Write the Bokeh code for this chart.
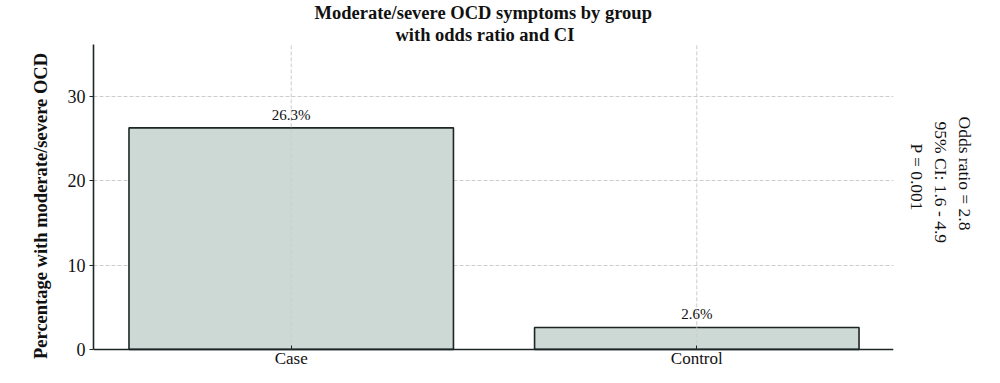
from bokeh.plotting import figure
from bokeh.models import ColumnDataSource, FixedTicker, Range1d, Title
from bokeh.embed import file_html
from bokeh.resources import INLINE

groups = ["Case", "Control"]
percentages = [26.3, 2.6]
bar_labels = ["26.3%", "2.6%"]
annotation_lines = ["Odds ratio = 2.8", "95% CI: 1.6 - 4.9", "P = 0.001"]
y_ticks = [0, 10, 20, 30]

FONT = "Liberation Serif"
INK = "#111111"
AXIS = "#1c2626"
GRID = "#cccccc"
Y_TOP = 36.2
x_pos = list(range(len(groups)))

src = ColumnDataSource(dict(x=x_pos, top=percentages, label=bar_labels))

p = figure(width=984, height=367, output_backend="svg", toolbar_location=None,
           x_range=Range1d(-0.4875, 1.485), y_range=Range1d(-2.157, Y_TOP),
           min_border_left=93, min_border_right=10, min_border_top=0, min_border_bottom=0)

p.title.text = "Moderate/severe OCD symptoms by group"
p.title.align = "left"
p.title.offset = 221
p.title.text_font = FONT
p.title.text_font_size = "18.5px"
p.title.text_font_style = "bold"
p.title.text_color = INK
p.title.standoff = 0
p.add_layout(Title(text="with odds ratio and CI", align="left", offset=302,
                   text_font=FONT, text_font_size="18.5px", text_font_style="bold",
                   text_color=INK, standoff=0), "above")

# right-hand annotation: spacer first, then lines from the frame outwards, then outer spacer
p.add_layout(Title(text=" ", text_font=FONT, text_font_size="9px", standoff=0), "right")
for line, off in zip(reversed(annotation_lines), [99, 77, 72]):
    p.add_layout(Title(text=line, align="left", offset=off, text_font=FONT,
                       text_font_size="17.5px", text_font_style="normal",
                       text_color=INK, standoff=2), "right")
p.add_layout(Title(text=" ", text_font=FONT, text_font_size="5px", standoff=0), "right")

p.vbar(x="x", top="top", width=0.8, source=src, fill_color="#cdd9d5",
       line_color=AXIS, line_width=1.6)

# vertical grid lines at the categories, from the baseline up
p.segment(x0=x_pos, y0=[0] * len(x_pos), x1=x_pos, y1=[Y_TOP] * len(x_pos),
          line_color=GRID, line_dash="4 2", line_width=1)

p.text(x="x", y="top", text="label", source=src, text_align="center",
       text_baseline="bottom", y_offset=-5, text_font_size="15px",
       text_color=INK, text_font={"value": FONT})

p.xaxis.ticker = FixedTicker(ticks=x_pos)
p.xaxis.major_label_overrides = {i: g for i, g in enumerate(groups)}
p.xaxis.fixed_location = 0
p.yaxis.ticker = FixedTicker(ticks=y_ticks)
p.yaxis.bounds = (0, Y_TOP)
p.yaxis.axis_label = "Percentage with moderate/severe OCD"

for ax in (p.xaxis, p.yaxis):
    ax.axis_line_color = AXIS
    ax.axis_line_width = 1.6
    ax.major_tick_line_color = AXIS
    ax.minor_tick_line_color = None
    ax.major_label_text_font = FONT
    ax.major_label_text_color = INK
    ax.axis_label_text_font = FONT
    ax.axis_label_text_font_size = "18.5px"
    ax.axis_label_text_font_style = "bold"
    ax.axis_label_text_color = INK

p.xaxis.major_label_text_font_size = "17px"
p.yaxis.major_label_text_font_size = "18px"
p.xaxis.major_tick_in = 4
p.xaxis.major_tick_out = 0
p.xaxis.major_label_standoff = 0
p.yaxis.major_tick_in = 0
p.yaxis.major_tick_out = 4
p.yaxis.major_label_standoff = 4
p.yaxis.axis_label_standoff = 14

p.xgrid.visible = False
p.ygrid.grid_line_color = GRID
p.ygrid.grid_line_dash = "4 2"
p.outline_line_color = None

open("out.html", "w").write(file_html(p, INLINE))
